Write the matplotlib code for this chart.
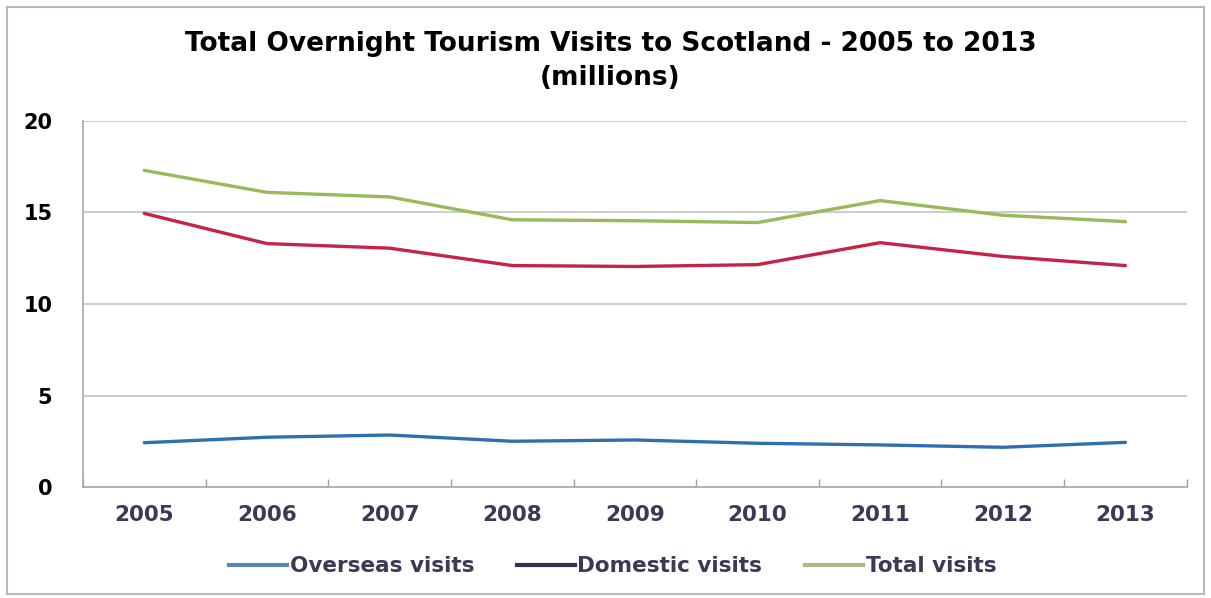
import matplotlib.pyplot as plt
from matplotlib.lines import Line2D
from matplotlib.patches import Rectangle

years = ['2005', '2006', '2007', '2008', '2009', '2010', '2011', '2012', '2013']
overseas = [2.42, 2.72, 2.84, 2.50, 2.57, 2.39, 2.30, 2.17, 2.44]
domestic = [14.95, 13.30, 13.05, 12.10, 12.05, 12.15, 13.35, 12.60, 12.10]
total = [17.30, 16.10, 15.85, 14.60, 14.55, 14.45, 15.65, 14.85, 14.50]

text_col = '#3b3a55'
c_over = '#2f6fb0'
c_dom = '#c42448'
c_tot = '#9ab85c'

plt.rcParams['font.family'] = 'DejaVu Sans'

fig = plt.figure(figsize=(12.11, 5.98), dpi=100)
ax = fig.add_axes([0.0685, 0.1856, 0.9115, 0.6121])

x = range(len(years))
ax.plot(x, overseas, color=c_over, lw=2.4, solid_capstyle='round')
ax.plot(x, domestic, color=c_dom, lw=2.4, solid_capstyle='round')
ax.plot(x, total, color=c_tot, lw=2.4, solid_capstyle='round')

ax.set_xlim(-0.5, len(years) - 0.5)
ax.set_ylim(0, 20)
ax.set_yticks([0, 5, 10, 15, 20])
ax.set_xticks(list(x))
ax.set_xticklabels(years)
ax.set_xticks([i + 0.5 for i in range(-1, len(years))], minor=True)
ax.tick_params(axis='x', which='major', length=0, pad=13, labelsize=15.5,
               labelcolor=text_col)
ax.tick_params(axis='x', which='minor', direction='in', length=6,
               color='#a0a0a0', width=1)
ax.tick_params(axis='y', length=0, pad=22, labelsize=15, labelcolor='black')
for lab in ax.get_xticklabels() + ax.get_yticklabels():
    lab.set_fontweight('heavy')

ax.grid(axis='y', color='#c4c4c4', lw=1.2)
ax.set_axisbelow(True)
for s in ['top', 'right']:
    ax.spines[s].set_visible(False)
for s in ['left', 'bottom']:
    ax.spines[s].set_color('#a8a8a8')
    ax.spines[s].set_linewidth(1.2)

fig.text(0.504, 0.926, 'Total Overnight Tourism Visits to Scotland - 2005 to 2013',
         ha='center', va='center', fontsize=19, fontweight='bold', color='black')
fig.text(0.504, 0.870, '(millions)', ha='center', va='center',
         fontsize=19, fontweight='bold', color='black')

handles = [Line2D([], [], color='#5b88ad', lw=3),
           Line2D([], [], color='#2f3350', lw=3),
           Line2D([], [], color='#a9b98c', lw=3)]
leg = fig.legend(handles, ['Overseas visits', 'Domestic visits', 'Total visits'],
                 loc='center', bbox_to_anchor=(0.506, 0.053), ncol=3,
                 frameon=False, handlelength=2.7, handletextpad=0.1,
                 columnspacing=2.0, prop={'size': 15.5, 'weight': 'bold'})
for t in leg.get_texts():
    t.set_color(text_col)

fig.patches.append(Rectangle((0.006, 0.006), 0.988, 0.982, transform=fig.transFigure,
                             fill=False, edgecolor='#b8b8b8', lw=1.5))

fig.savefig('out.png', dpi=100)
